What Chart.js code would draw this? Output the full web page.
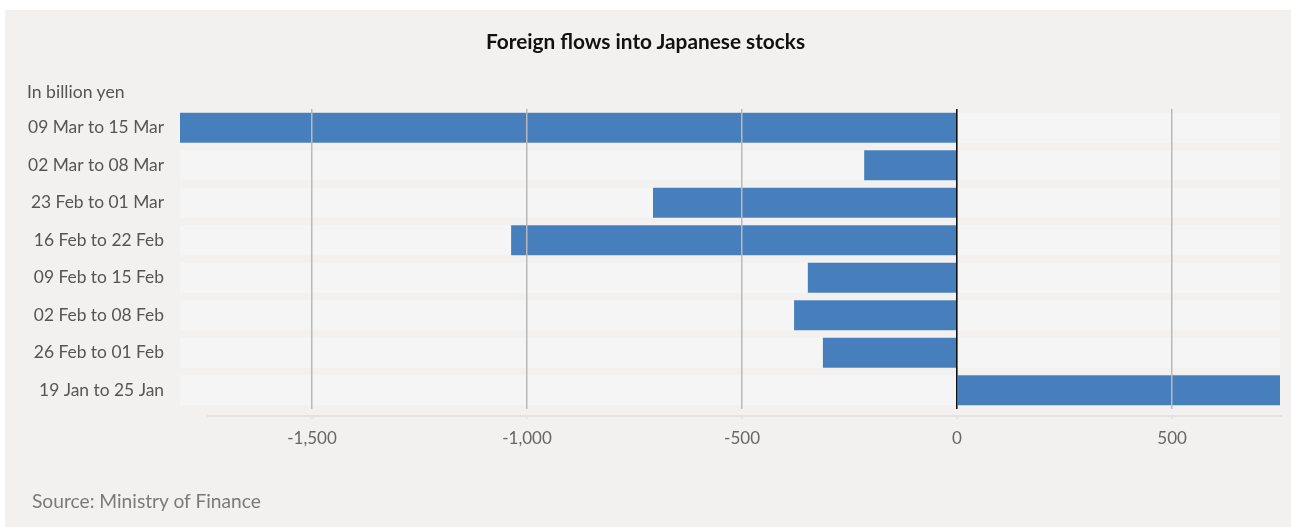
<!DOCTYPE html>
<html>
<head>
<meta charset="utf-8">
<script src="https://cdn.jsdelivr.net/npm/chart.js@4"></script>
<style>
  html, body { margin: 0; padding: 0; background: #ffffff; }
  #wrap { position: relative; width: 1291px; height: 527px; overflow: hidden; }
  #panel { position: absolute; left: 5px; top: 10px; right: 0; bottom: 0; background: #f2f1ef; }
  canvas { position: absolute; left: 0; top: 0; }
  .txt { position: absolute; font-family: Lato, "Noto Sans", sans-serif; white-space: nowrap; }
  #title { left: 0; width: 1291px; top: 28px; text-align: center; font-size: 20.8px; font-weight: 700; color: #111; }
  #unit { left: 27px; top: 81px; font-size: 17.6px; font-weight: 400; color: #555; }
  #source { left: 32px; top: 489px; font-size: 19.2px; font-weight: 400; color: #7a7a7a; }
</style>
</head>
<body>
<div id="wrap">
  <div id="panel"></div>
  <canvas id="c" width="1291" height="527"></canvas>
  <div class="txt" id="title">Foreign flows into Japanese stocks</div>
  <div class="txt" id="unit">In billion yen</div>
  <div class="txt" id="source">Source: Ministry of Finance</div>
</div>
<script>
// ---- data ----
const categories = [
  "09 Mar to 15 Mar",
  "02 Mar to 08 Mar",
  "23 Feb to 01 Mar",
  "16 Feb to 22 Feb",
  "09 Feb to 15 Feb",
  "02 Feb to 08 Feb",
  "26 Feb to 01 Feb",
  "19 Jan to 25 Jan"
];
const flows = [-1807, -216, -707, -1037, -347, -379, -312, 751];
const tickValues = [-1500, -1000, -500, 0, 500];
const axisMin = -1807;
const axisMax = 751;

const BAR_PCT = 0.8;
const FONT = 'Lato, "Noto Sans", sans-serif';

const stripePlugin = {
  id: 'stripes',
  beforeDatasetsDraw(chart) {
    const { ctx, chartArea, scales } = chart;
    const y = scales.y;
    const step = Math.abs(y.getPixelForValue(1) - y.getPixelForValue(0));
    const h = step * BAR_PCT;
    ctx.save();
    ctx.fillStyle = '#f5f5f5';
    categories.forEach((c, i) => {
      const cy = y.getPixelForValue(i);
      ctx.fillRect(chartArea.left, cy - h / 2, chartArea.right - chartArea.left, h);
    });
    ctx.restore();
  },
  afterDraw(chart) {
    const { ctx, chartArea, scales } = chart;
    const x = scales.x;
    const yLine = chartArea.bottom + 7;
    ctx.save();
    ctx.strokeStyle = '#e3e2e0';
    ctx.lineWidth = 2;
    ctx.beginPath();
    ctx.moveTo(chartArea.left + 27, yLine);
    ctx.lineTo(chartArea.right + 2, yLine);
    ctx.stroke();
    ctx.strokeStyle = '#e6e5e3';
    tickValues.forEach(v => {
      const px = x.getPixelForValue(v);
      ctx.beginPath();
      ctx.moveTo(px, yLine);
      ctx.lineTo(px, yLine + 3);
      ctx.stroke();
    });
    ctx.restore();
  }
};

new Chart(document.getElementById('c'), {
  type: 'bar',
  data: {
    labels: categories,
    datasets: [{
      data: flows,
      backgroundColor: '#477fbd',
      borderWidth: 0,
      barPercentage: BAR_PCT,
      categoryPercentage: 1.0
    }]
  },
  options: {
    indexAxis: 'y',
    responsive: false,
    animation: false,
    devicePixelRatio: 1,
    layout: { padding: { left: 0, right: 11, top: 109, bottom: 0 } },
    plugins: { legend: { display: false }, title: { display: false }, tooltip: { enabled: false } },
    scales: {
      x: {
        min: axisMin,
        max: axisMax,
        afterBuildTicks(scale) { scale.ticks = tickValues.map(v => ({ value: v })); },
        afterFit(scale) { scale.height = 118; },
        border: { display: false },
        grid: {
          z: 1,
          drawTicks: false,
          color: ctx => (ctx.tick && ctx.tick.value === 0) ? '#111111' : '#b9b9b9',
          lineWidth: ctx => (ctx.tick && ctx.tick.value === 0) ? 1.6 : 1.5
        },
        ticks: {
          padding: 19,
          color: '#666666',
          font: { family: FONT, size: 17 },
          callback: v => Number(v).toLocaleString('en-US')
        }
      },
      y: {
        afterFit(scale) { scale.width = 180; },
        border: { display: false },
        grid: { display: false, drawTicks: false },
        ticks: {
          padding: 16,
          color: '#555555',
          font: { family: FONT, size: 17.4 }
        }
      }
    }
  },
  plugins: [stripePlugin]
});
</script>
</body>
</html>
